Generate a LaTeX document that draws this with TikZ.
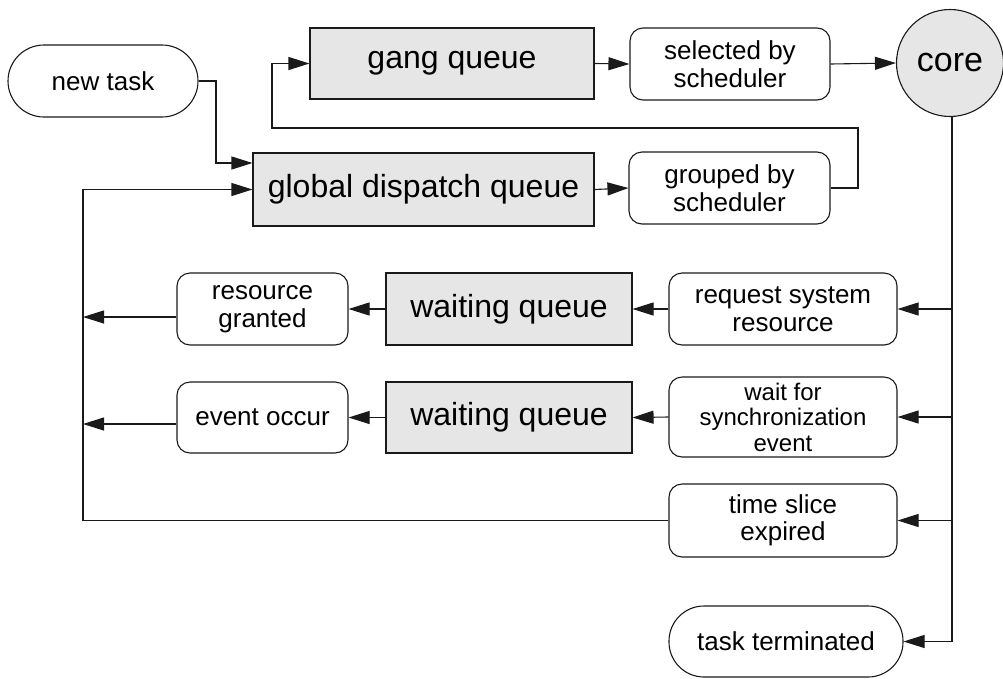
\documentclass[tikz,border=0pt]{standalone}
\usepackage{fontspec}
\setmainfont{Liberation Sans}
\usetikzlibrary{arrows.meta}
\definecolor{qfill}{HTML}{E6E6E6}
\definecolor{edge}{HTML}{1A1A1A}
\tikzset{
  box/.style={draw=edge, line width=1.1pt, inner sep=0pt, align=center, anchor=center},
  queue/.style={box, fill=qfill, font=\fontsize{32}{34}\selectfont},
  proc/.style={box, rounded corners=13pt, font=\fontsize{26}{27.5}\selectfont},
  term/.style={box, font=\fontsize{26}{27.5}\selectfont},
  conn/.style={draw=edge, line width=1.1pt},
  arr/.style={conn, -{Triangle[length=21pt,width=13pt]}},
}
\begin{document}
\begin{tikzpicture}[x=1pt,y=-1pt]
\useasboundingbox (0,0) rectangle (1003,678);
% nodes
\node[term, rounded corners=36pt, minimum width=190pt, minimum height=72pt] (newtask) at (103,81) {new task};
\node[queue, minimum width=284pt, minimum height=71pt] (gang) at (452,63.5) {gang queue};
\node[proc, minimum width=200pt, minimum height=72pt] (selected) at (730,64) {selected by\\scheduler};
\node[box, circle, fill=qfill, minimum size=107pt, font=\fontsize{34}{36}\selectfont] (core) at (950,63) {core};
\node[queue, minimum width=341pt, minimum height=73pt] (global) at (423.5,189.5) {global dispatch queue};
\node[proc, minimum width=201pt, minimum height=72pt] (grouped) at (729.5,188) {grouped by\\scheduler};
\node[queue, minimum width=246pt, minimum height=72pt] (wq1) at (509,309) {waiting queue};
\node[proc, minimum width=228pt, minimum height=72pt] (request) at (783,309) {request system\\resource};
\node[proc, minimum width=171pt, minimum height=72pt] (resgr) at (262.5,309) {resource\\granted};
\node[queue, minimum width=246pt, minimum height=71pt] (wq2) at (509,417.5) {waiting queue};
\node[proc, minimum width=228pt, minimum height=80pt, font=\fontsize{24}{25.5}\selectfont] (sync) at (783,417) {wait for\\synchronization\\event};
\node[proc, minimum width=171pt, minimum height=71pt] (event) at (262.5,417.5) {event occur};
\node[proc, minimum width=228pt, minimum height=73pt] (timeslice) at (783,520.5) {time slice\\expired};
\node[term, rounded corners=35pt, minimum width=234pt, minimum height=71pt] (terminated) at (786,641.5) {task terminated};
% helper coordinates
\coordinate (L) at (83,0);
\coordinate (R) at (952,0);
\coordinate (nt) at (216,0);
\coordinate (gl) at (272,0);
\coordinate (gr) at (858,128);
\coordinate (rgout) at ([yshift=-8pt]resgr.west);
\coordinate (evout) at ([yshift=-6.5pt]event.west);
\coordinate (ntin) at ([yshift=26.5pt]global.west);
% connectors
\draw[arr] (newtask.east) -- (nt |- newtask.east) |- (ntin);
\draw[arr] (gang.east) -- (selected.west);
\draw[arr] (selected.east) -- (core.west);
\draw[arr] (global.east) -- (grouped.west);
\draw[arr] (grouped.east) -- (gr |- grouped.east) -- (gr) -- (gl |- gr) |- (gang.west);
\draw[conn] (core.south -| R) -- (R |- terminated.east);
\draw[arr] (R |- request.east) -- (request.east);
\draw[arr] (R |- sync.east) -- (sync.east);
\draw[arr] (R |- timeslice.east) -- (timeslice.east);
\draw[arr] (R |- terminated.east) -- (terminated.east);
\draw[arr] (request.west) -- (wq1.east);
\draw[arr] (sync.west) -- (wq2.east);
\draw[arr] (wq1.west) -- (resgr.east);
\draw[arr] (wq2.west) -- (event.east);
\draw[arr] (rgout) -- (L |- rgout);
\draw[arr] (evout) -- (L |- evout);
\draw[arr] (timeslice.west) -- (L |- timeslice.west) |- (global.west);
\end{tikzpicture}
\end{document}
